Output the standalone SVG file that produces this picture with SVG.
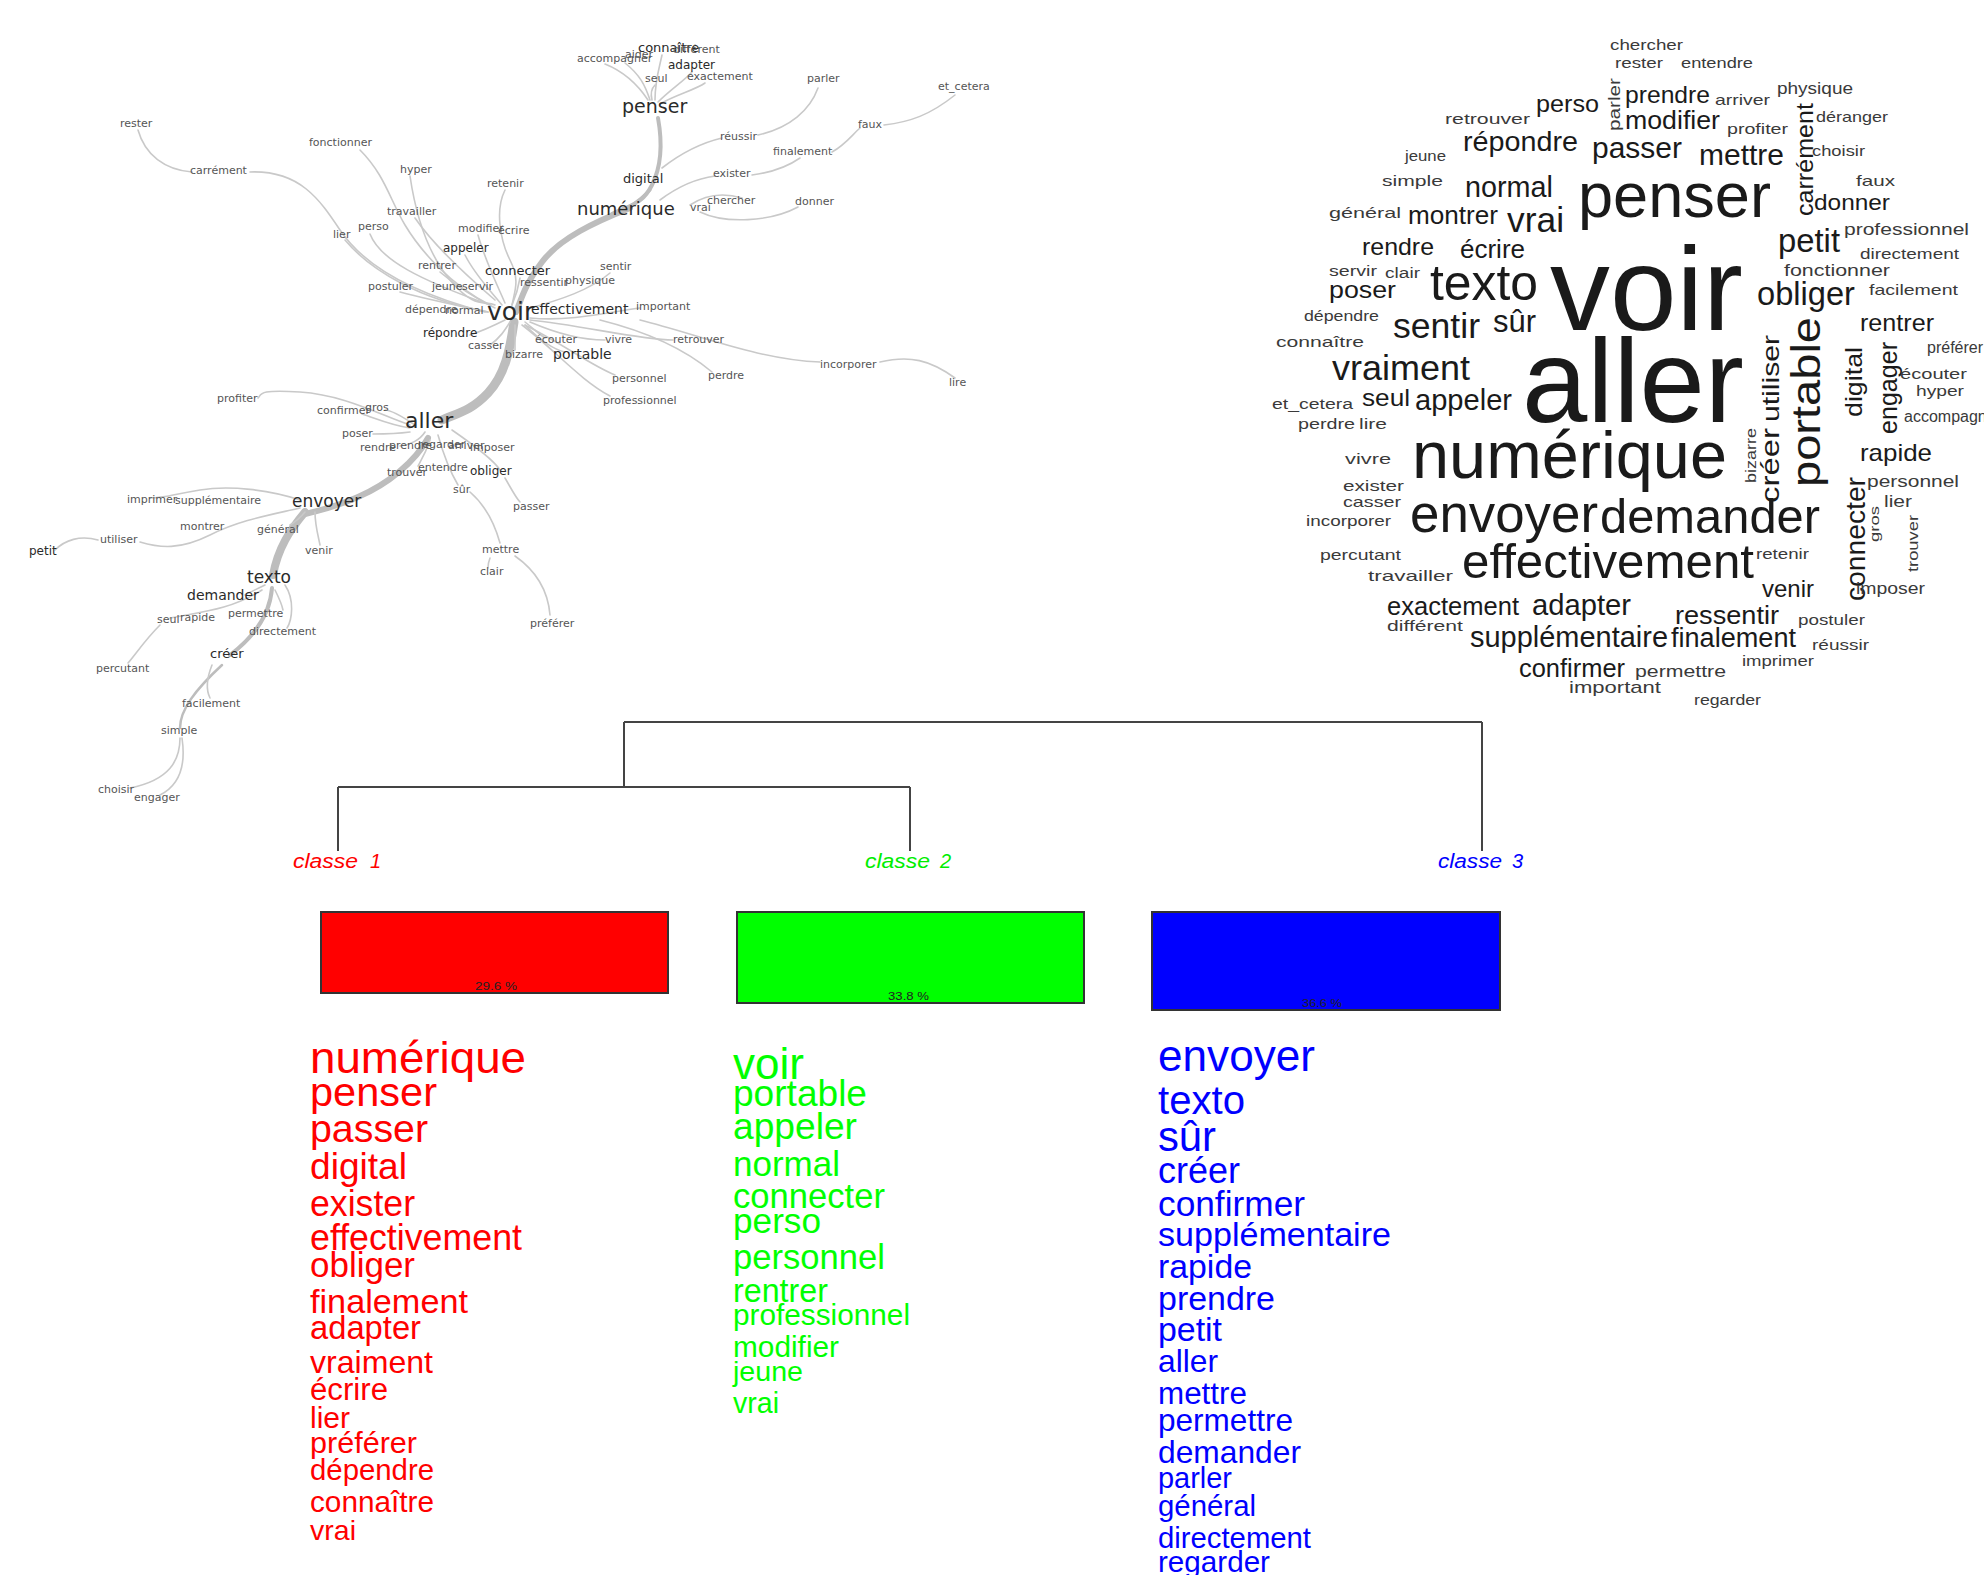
<svg xmlns="http://www.w3.org/2000/svg" width="1984" height="1575" viewBox="0 0 1984 1575">
<style>
.e{fill:none;stroke:#c9c9c9;stroke-width:1.6;stroke-linecap:round}
.b{fill:none;stroke:#bdbdbd;stroke-linecap:round}
.t{font-family:"DejaVu Sans","Liberation Sans",sans-serif;font-size:11px;fill:#555}
.tb{font-family:"DejaVu Sans","Liberation Sans",sans-serif;fill:#2a2a2a}
.w{font-family:"Liberation Sans",Arial,sans-serif;fill:#1a1a1a}
.ws{font-family:"Liberation Sans",Arial,sans-serif;fill:#3a3a3a}
.den{fill:none;stroke:#444;stroke-width:2}
.cl{font-family:"Liberation Sans",Arial,sans-serif;font-style:italic;font-size:20px}
.r{fill:#ff0000}.g{fill:#00ee00}.bl{fill:#0000ff}
.L{font-family:"Liberation Sans",Arial,sans-serif}
.pct{font-family:"Liberation Sans",Arial,sans-serif;font-size:11px;fill:#222}
</style>
<rect width="1984" height="1575" fill="#fff"/>

<!-- similarity tree -->
<g id="tree-edges">
<path class="b" stroke-width="4" d="M658,118 C662,140 662,165 652,185 S630,205 612,214"/>
<path class="b" stroke-width="3" d="M650,190 C640,200 630,208 615,214"/>
<path class="b" stroke-width="6" d="M630,208 C595,222 560,238 542,262 S522,298 516,312"/>
<path class="b" stroke-width="9" d="M514,322 C510,350 505,375 488,393 S458,413 442,420"/>
<path class="b" stroke-width="6" d="M428,438 C415,462 388,484 358,497 S318,510 302,515"/>
<path class="b" stroke-width="8" d="M305,512 C290,530 278,548 273,575"/>
<path class="b" stroke-width="4" d="M272,588 C270,615 255,636 230,655"/>
<path class="b" stroke-width="2.5" d="M222,665 C195,690 180,710 180,728"/>
<path class="e" d="M180,738 C180,760 170,780 130,788"/>
<path class="e" d="M182,738 C186,765 180,785 160,795"/>
<path class="e" d="M212,665 C206,680 206,690 210,698"/>
<path class="e" d="M650,100 C645,85 640,75 625,63"/>
<path class="e" d="M655,100 C655,80 660,65 662,55"/>
<path class="e" d="M658,102 C670,90 685,80 692,72"/>
<path class="e" d="M660,104 C675,95 695,90 705,83"/>
<path class="e" d="M652,100 C650,92 652,88 655,85"/>
<path class="e" d="M648,100 C638,85 625,72 605,64"/>
<path class="e" d="M662,168 C685,150 705,142 722,138"/>
<path class="e" d="M758,135 C790,128 810,110 818,88"/>
<path class="e" d="M660,200 C680,185 700,178 715,176"/>
<path class="e" d="M752,175 C775,172 790,165 800,158"/>
<path class="e" d="M832,152 C845,145 852,135 860,128"/>
<path class="e" d="M884,125 C910,122 930,115 955,95"/>
<path class="e" d="M700,212 C725,224 770,222 798,207"/>
<path class="e" d="M690,205 C705,195 722,192 742,198"/>
<path class="e" d="M138,130 C145,155 165,170 192,172"/>
<path class="e" d="M250,172 C300,170 320,200 340,230 S400,290 485,312"/>
<path class="e" d="M360,150 C385,175 390,200 405,225 S450,285 490,305"/>
<path class="e" d="M410,176 C415,210 425,250 450,280 S485,300 495,305"/>
<path class="e" d="M505,190 C495,210 500,240 510,260 S515,290 512,305"/>
<path class="e" d="M415,218 C430,240 460,270 495,300"/>
<path class="e" d="M370,234 C380,260 420,280 490,305"/>
<path class="e" d="M345,240 C370,270 420,300 488,312"/>
<path class="e" d="M478,235 C485,260 495,280 505,303"/>
<path class="e" d="M465,255 C475,275 490,290 502,305"/>
<path class="e" d="M440,272 C455,285 475,298 495,308"/>
<path class="e" d="M400,292 C430,300 460,306 488,312"/>
<path class="e" d="M520,278 C518,290 515,298 512,305"/>
<path class="e" d="M610,273 C590,290 560,300 530,308"/>
<path class="e" d="M470,335 C485,330 495,325 505,320"/>
<path class="e" d="M490,345 C500,338 505,330 510,322"/>
<path class="e" d="M515,350 C515,340 515,335 515,325"/>
<path class="e" d="M530,318 C570,322 610,312 640,308"/>
<path class="e" d="M530,320 C580,325 640,340 673,340"/>
<path class="e" d="M640,320 C700,335 760,360 820,362"/>
<path class="e" d="M880,362 C910,355 930,360 955,378"/>
<path class="e" d="M600,320 C640,330 680,345 712,372"/>
<path class="e" d="M525,322 C535,330 540,335 545,338"/>
<path class="e" d="M530,322 C560,335 585,340 605,340"/>
<path class="e" d="M525,325 C540,340 555,350 565,352"/>
<path class="e" d="M525,325 C565,345 590,365 615,375"/>
<path class="e" d="M522,325 C555,350 580,380 610,396"/>
<path class="e" d="M410,425 C380,415 345,395 300,392 S262,395 258,398"/>
<path class="e" d="M410,428 C390,425 375,418 362,414"/>
<path class="e" d="M415,425 C400,415 390,410 385,410"/>
<path class="e" d="M410,432 C395,434 385,434 373,434"/>
<path class="e" d="M425,432 C420,440 410,445 400,446"/>
<path class="e" d="M452,430 C478,448 495,462 500,470"/>
<path class="e" d="M505,478 C512,490 516,498 520,502"/>
<path class="e" d="M438,435 C445,460 452,475 458,485"/>
<path class="e" d="M470,492 C485,505 495,525 500,543"/>
<path class="e" d="M515,556 C535,570 548,590 550,615"/>
<path class="e" d="M490,558 C488,563 488,566 488,568"/>
<path class="e" d="M430,440 C425,455 420,462 418,466"/>
<path class="e" d="M300,500 C270,490 230,485 200,490 S165,498 150,498"/>
<path class="e" d="M300,508 C270,515 240,520 210,535 S160,548 140,542"/>
<path class="e" d="M98,540 C80,535 65,540 55,550"/>
<path class="e" d="M305,512 C300,518 295,522 290,525"/>
<path class="e" d="M315,512 C315,525 318,535 320,545"/>
<path class="e" d="M265,585 C255,590 250,592 245,595"/>
<path class="e" d="M262,590 C230,610 200,612 170,618"/>
<path class="e" d="M160,625 C145,640 135,655 128,663"/>
<path class="e" d="M275,590 C280,600 282,605 283,610"/>
<path class="e" d="M285,585 C295,600 292,620 287,628"/>
</g>
<g id="tree-labels">
<text class="t" x="577" y="62" font-size="10">accompagner</text>
<text class="t" x="625" y="58" font-size="10">aider</text>
<text class="tb" x="638" y="52" font-size="13">connaître</text>
<text class="t" x="673" y="53" font-size="10">différent</text>
<text class="tb" x="668" y="69" font-size="12">adapter</text>
<text class="t" x="645" y="82">seul</text>
<text class="t" x="687" y="80">exactement</text>
<text class="tb" x="622" y="113" font-size="19">penser</text>
<text class="t" x="807" y="82">parler</text>
<text class="t" x="938" y="90">et_cetera</text>
<text class="t" x="858" y="128">faux</text>
<text class="t" x="720" y="140">réussir</text>
<text class="t" x="773" y="155">finalement</text>
<text class="t" x="713" y="177">exister</text>
<text class="tb" x="623" y="183" font-size="13">digital</text>
<text class="tb" x="577" y="215" font-size="18">numérique</text>
<text class="t" x="690" y="211">vrai</text>
<text class="t" x="707" y="204">chercher</text>
<text class="t" x="795" y="205">donner</text>
<text class="t" x="120" y="127">rester</text>
<text class="t" x="190" y="174">carrément</text>
<text class="t" x="309" y="146">fonctionner</text>
<text class="t" x="400" y="173">hyper</text>
<text class="t" x="487" y="187">retenir</text>
<text class="t" x="387" y="215">travailler</text>
<text class="t" x="358" y="230">perso</text>
<text class="t" x="333" y="238">lier</text>
<text class="t" x="458" y="232">modifier</text>
<text class="t" x="498" y="234">écrire</text>
<text class="tb" x="443" y="252" font-size="12">appeler</text>
<text class="t" x="418" y="269">rentrer</text>
<text class="tb" x="485" y="275" font-size="13">connecter</text>
<text class="t" x="600" y="270">sentir</text>
<text class="t" x="368" y="290">postuler</text>
<text class="t" x="432" y="290">jeune</text>
<text class="t" x="462" y="290">servir</text>
<text class="t" x="520" y="286">ressentir</text>
<text class="t" x="565" y="284">physique</text>
<text class="t" x="405" y="313">dépendre</text>
<text class="t" x="445" y="314">normal</text>
<text class="tb" x="487" y="320" font-size="25">voir</text>
<text class="tb" x="531" y="314" font-size="14">effectivement</text>
<text class="t" x="636" y="310">important</text>
<text class="tb" x="423" y="337" font-size="12">répondre</text>
<text class="t" x="468" y="349">casser</text>
<text class="t" x="535" y="343">écouter</text>
<text class="t" x="605" y="343">vivre</text>
<text class="t" x="673" y="343">retrouver</text>
<text class="t" x="505" y="358">bizarre</text>
<text class="tb" x="553" y="359" font-size="14">portable</text>
<text class="t" x="612" y="382">personnel</text>
<text class="t" x="708" y="379">perdre</text>
<text class="t" x="603" y="404">professionnel</text>
<text class="t" x="820" y="368">incorporer</text>
<text class="t" x="949" y="386">lire</text>
<text class="t" x="217" y="402">profiter</text>
<text class="t" x="317" y="414">confirmer</text>
<text class="t" x="365" y="411" font-size="10">gros</text>
<text class="tb" x="405" y="428" font-size="22">aller</text>
<text class="t" x="342" y="437">poser</text>
<text class="t" x="360" y="451">rendre</text>
<text class="t" x="389" y="449" font-size="10">prendre</text>
<text class="t" x="418" y="448" font-size="10">regarder</text>
<text class="t" x="448" y="449" font-size="10">arriver</text>
<text class="t" x="470" y="451">imposer</text>
<text class="t" x="387" y="476">trouver</text>
<text class="t" x="418" y="471" font-size="9">entendre</text>
<text class="tb" x="470" y="475" font-size="12">obliger</text>
<text class="t" x="453" y="493">sûr</text>
<text class="t" x="513" y="510">passer</text>
<text class="t" x="127" y="503">imprimer</text>
<text class="t" x="175" y="504">supplémentaire</text>
<text class="tb" x="292" y="507" font-size="17">envoyer</text>
<text class="t" x="180" y="530">montrer</text>
<text class="t" x="257" y="533">général</text>
<text class="t" x="100" y="543">utiliser</text>
<text class="tb" x="29" y="555" font-size="12">petit</text>
<text class="t" x="305" y="554">venir</text>
<text class="t" x="482" y="553">mettre</text>
<text class="t" x="480" y="575">clair</text>
<text class="t" x="530" y="627">préférer</text>
<text class="tb" x="247" y="583" font-size="17">texto</text>
<text class="tb" x="187" y="600" font-size="14">demander</text>
<text class="t" x="157" y="623">seul</text>
<text class="t" x="180" y="621">rapide</text>
<text class="t" x="228" y="617">permettre</text>
<text class="t" x="249" y="635">directement</text>
<text class="tb" x="210" y="658" font-size="13">créer</text>
<text class="t" x="96" y="672">percutant</text>
<text class="t" x="182" y="707">facilement</text>
<text class="t" x="161" y="734">simple</text>
<text class="t" x="98" y="793">choisir</text>
<text class="t" x="134" y="801">engager</text>
</g>

<!-- word cloud -->
<g id="wordcloud">
<text class="ws" x="1610" y="50" font-size="15" textLength="73" lengthAdjust="spacingAndGlyphs">chercher</text>
<text class="ws" x="1615" y="68" font-size="15" textLength="48" lengthAdjust="spacingAndGlyphs">rester</text>
<text class="ws" x="1681" y="68" font-size="15" textLength="72" lengthAdjust="spacingAndGlyphs">entendre</text>
<text class="w" x="1536" y="112" font-size="24" textLength="63" lengthAdjust="spacingAndGlyphs">perso</text>
<text class="ws" transform="translate(1620,131) rotate(-90)" font-size="16" textLength="53" lengthAdjust="spacingAndGlyphs">parler</text>
<text class="w" x="1625" y="103" font-size="24" textLength="85" lengthAdjust="spacingAndGlyphs">prendre</text>
<text class="ws" x="1715" y="105" font-size="15" textLength="55" lengthAdjust="spacingAndGlyphs">arriver</text>
<text class="ws" x="1777" y="94" font-size="16" textLength="76" lengthAdjust="spacingAndGlyphs">physique</text>
<text class="ws" x="1445" y="124" font-size="15" textLength="85" lengthAdjust="spacingAndGlyphs">retrouver</text>
<text class="w" x="1625" y="129" font-size="25" textLength="95" lengthAdjust="spacingAndGlyphs">modifier</text>
<text class="ws" x="1727" y="134" font-size="15" textLength="61" lengthAdjust="spacingAndGlyphs">profiter</text>
<text class="w" transform="translate(1813,216) rotate(-90)" font-size="24" textLength="113" lengthAdjust="spacingAndGlyphs">carrément</text>
<text class="ws" x="1816" y="122" font-size="15" textLength="72" lengthAdjust="spacingAndGlyphs">déranger</text>
<text class="w" x="1463" y="151" font-size="28" textLength="115" lengthAdjust="spacingAndGlyphs">répondre</text>
<text class="w" x="1592" y="158" font-size="29" textLength="90" lengthAdjust="spacingAndGlyphs">passer</text>
<text class="w" x="1699" y="165" font-size="29" textLength="85" lengthAdjust="spacingAndGlyphs">mettre</text>
<text class="ws" x="1812" y="156" font-size="15" textLength="53" lengthAdjust="spacingAndGlyphs">choisir</text>
<text class="ws" x="1405" y="161" font-size="14" textLength="41" lengthAdjust="spacingAndGlyphs">jeune</text>
<text class="ws" x="1382" y="186" font-size="15" textLength="61" lengthAdjust="spacingAndGlyphs">simple</text>
<text class="w" x="1465" y="197" font-size="29" textLength="88" lengthAdjust="spacingAndGlyphs">normal</text>
<text class="w" x="1578" y="217" font-size="63" textLength="193" lengthAdjust="spacingAndGlyphs">penser</text>
<text class="ws" x="1856" y="186" font-size="15" textLength="39" lengthAdjust="spacingAndGlyphs">faux</text>
<text class="w" x="1814" y="210" font-size="22" textLength="76" lengthAdjust="spacingAndGlyphs">donner</text>
<text class="ws" x="1329" y="218" font-size="15" textLength="72" lengthAdjust="spacingAndGlyphs">général</text>
<text class="w" x="1408" y="224" font-size="26" textLength="90" lengthAdjust="spacingAndGlyphs">montrer</text>
<text class="w" x="1507" y="232" font-size="35" textLength="57" lengthAdjust="spacingAndGlyphs">vrai</text>
<text class="ws" x="1844" y="235" font-size="16" textLength="125" lengthAdjust="spacingAndGlyphs">professionnel</text>
<text class="w" x="1362" y="255" font-size="24" textLength="72" lengthAdjust="spacingAndGlyphs">rendre</text>
<text class="w" x="1460" y="258" font-size="26" textLength="65" lengthAdjust="spacingAndGlyphs">écrire</text>
<text class="w" x="1778" y="252" font-size="33" textLength="62" lengthAdjust="spacingAndGlyphs">petit</text>
<text class="ws" x="1860" y="259" font-size="15" textLength="99" lengthAdjust="spacingAndGlyphs">directement</text>
<text class="w" x="1430" y="300" font-size="50" textLength="108" lengthAdjust="spacingAndGlyphs">texto</text>
<text class="w" x="1550" y="330" font-size="118" textLength="193" lengthAdjust="spacingAndGlyphs">voir</text>
<text class="ws" x="1329" y="276" font-size="14" textLength="48" lengthAdjust="spacingAndGlyphs">servir</text>
<text class="ws" x="1385" y="278" font-size="14" textLength="35" lengthAdjust="spacingAndGlyphs">clair</text>
<text class="ws" x="1784" y="276" font-size="17" textLength="106" lengthAdjust="spacingAndGlyphs">fonctionner</text>
<text class="w" x="1329" y="298" font-size="24" textLength="67" lengthAdjust="spacingAndGlyphs">poser</text>
<text class="w" x="1757" y="305" font-size="33" textLength="98" lengthAdjust="spacingAndGlyphs">obliger</text>
<text class="ws" x="1869" y="295" font-size="15" textLength="89" lengthAdjust="spacingAndGlyphs">facilement</text>
<text class="ws" x="1304" y="321" font-size="14" textLength="75" lengthAdjust="spacingAndGlyphs">dépendre</text>
<text class="w" x="1393" y="338" font-size="35" textLength="87" lengthAdjust="spacingAndGlyphs">sentir</text>
<text class="w" x="1493" y="332" font-size="31" textLength="43" lengthAdjust="spacingAndGlyphs">sûr</text>
<text class="w" transform="translate(1820,487) rotate(-90)" font-size="40" textLength="170" lengthAdjust="spacingAndGlyphs">portable</text>
<text class="w" x="1860" y="331" font-size="24" textLength="74" lengthAdjust="spacingAndGlyphs">rentrer</text>
<text class="ws" x="1927" y="353" font-size="16">préférer</text>
<text class="ws" x="1276" y="347" font-size="15" textLength="88" lengthAdjust="spacingAndGlyphs">connaître</text>
<text class="w" x="1332" y="380" font-size="35" textLength="138" lengthAdjust="spacingAndGlyphs">vraiment</text>
<text class="w" x="1522" y="422" font-size="118" textLength="222" lengthAdjust="spacingAndGlyphs">aller</text>
<text class="w" transform="translate(1779,422) rotate(-90)" font-size="24" textLength="87" lengthAdjust="spacingAndGlyphs">utiliser</text>
<text class="w" transform="translate(1862,417) rotate(-90)" font-size="24" textLength="70" lengthAdjust="spacingAndGlyphs">digital</text>
<text class="w" transform="translate(1897,434) rotate(-90)" font-size="25" textLength="92" lengthAdjust="spacingAndGlyphs">engager</text>
<text class="ws" x="1900" y="379" font-size="15" textLength="67" lengthAdjust="spacingAndGlyphs">écouter</text>
<text class="ws" x="1916" y="396" font-size="15" textLength="48" lengthAdjust="spacingAndGlyphs">hyper</text>
<text class="ws" x="1904" y="422" font-size="16">accompagner</text>
<text class="ws" x="1272" y="409" font-size="14" textLength="81" lengthAdjust="spacingAndGlyphs">et_cetera</text>
<text class="w" x="1362" y="406" font-size="24" textLength="48" lengthAdjust="spacingAndGlyphs">seul</text>
<text class="w" x="1415" y="410" font-size="29" textLength="97" lengthAdjust="spacingAndGlyphs">appeler</text>
<text class="ws" x="1298" y="429" font-size="15" textLength="57" lengthAdjust="spacingAndGlyphs">perdre</text>
<text class="ws" x="1359" y="429" font-size="15" textLength="28" lengthAdjust="spacingAndGlyphs">lire</text>
<text class="w" x="1412" y="478" font-size="67" textLength="315" lengthAdjust="spacingAndGlyphs">numérique</text>
<text class="w" transform="translate(1779,503) rotate(-90)" font-size="26" textLength="75" lengthAdjust="spacingAndGlyphs">créer</text>
<text class="ws" transform="translate(1756,483) rotate(-90)" font-size="15" textLength="55" lengthAdjust="spacingAndGlyphs">bizarre</text>
<text class="w" x="1860" y="461" font-size="24" textLength="72" lengthAdjust="spacingAndGlyphs">rapide</text>
<text class="ws" x="1345" y="464" font-size="15" textLength="46" lengthAdjust="spacingAndGlyphs">vivre</text>
<text class="ws" x="1343" y="491" font-size="15" textLength="61" lengthAdjust="spacingAndGlyphs">exister</text>
<text class="w" transform="translate(1865,601) rotate(-90)" font-size="27" textLength="124" lengthAdjust="spacingAndGlyphs">connecter</text>
<text class="ws" x="1867" y="487" font-size="16" textLength="92" lengthAdjust="spacingAndGlyphs">personnel</text>
<text class="ws" x="1343" y="507" font-size="15" textLength="58" lengthAdjust="spacingAndGlyphs">casser</text>
<text class="ws" transform="translate(1879,542) rotate(-90)" font-size="13" textLength="36" lengthAdjust="spacingAndGlyphs">gros</text>
<text class="ws" x="1884" y="507" font-size="16" textLength="28" lengthAdjust="spacingAndGlyphs">lier</text>
<text class="ws" transform="translate(1918,572) rotate(-90)" font-size="15" textLength="57" lengthAdjust="spacingAndGlyphs">trouver</text>
<text class="ws" x="1306" y="526" font-size="15" textLength="85" lengthAdjust="spacingAndGlyphs">incorporer</text>
<text class="w" x="1410" y="532" font-size="53" textLength="188" lengthAdjust="spacingAndGlyphs">envoyer</text>
<text class="w" x="1600" y="533" font-size="49" textLength="220" lengthAdjust="spacingAndGlyphs">demander</text>
<text class="ws" x="1320" y="560" font-size="15" textLength="81" lengthAdjust="spacingAndGlyphs">percutant</text>
<text class="ws" x="1756" y="559" font-size="14" textLength="53" lengthAdjust="spacingAndGlyphs">retenir</text>
<text class="ws" x="1368" y="581" font-size="15" textLength="85" lengthAdjust="spacingAndGlyphs">travailler</text>
<text class="w" x="1462" y="578" font-size="48" textLength="292" lengthAdjust="spacingAndGlyphs">effectivement</text>
<text class="w" x="1762" y="597" font-size="24" textLength="52" lengthAdjust="spacingAndGlyphs">venir</text>
<text class="ws" x="1856" y="594" font-size="16" textLength="69" lengthAdjust="spacingAndGlyphs">imposer</text>
<text class="w" x="1387" y="615" font-size="25" textLength="132" lengthAdjust="spacingAndGlyphs">exactement</text>
<text class="w" x="1532" y="615" font-size="29" textLength="99" lengthAdjust="spacingAndGlyphs">adapter</text>
<text class="ws" x="1387" y="631" font-size="14" textLength="76" lengthAdjust="spacingAndGlyphs">différent</text>
<text class="w" x="1675" y="624" font-size="26" textLength="104" lengthAdjust="spacingAndGlyphs">ressentir</text>
<text class="ws" x="1798" y="625" font-size="15" textLength="67" lengthAdjust="spacingAndGlyphs">postuler</text>
<text class="w" x="1470" y="647" font-size="29" textLength="198" lengthAdjust="spacingAndGlyphs">supplémentaire</text>
<text class="w" x="1671" y="647" font-size="27" textLength="125" lengthAdjust="spacingAndGlyphs">finalement</text>
<text class="ws" x="1812" y="650" font-size="15" textLength="57" lengthAdjust="spacingAndGlyphs">réussir</text>
<text class="ws" x="1742" y="666" font-size="15" textLength="72" lengthAdjust="spacingAndGlyphs">imprimer</text>
<text class="w" x="1519" y="677" font-size="25" textLength="106" lengthAdjust="spacingAndGlyphs">confirmer</text>
<text class="ws" x="1635" y="677" font-size="17" textLength="91" lengthAdjust="spacingAndGlyphs">permettre</text>
<text class="ws" x="1569" y="693" font-size="17" textLength="92" lengthAdjust="spacingAndGlyphs">important</text>
<text class="ws" x="1694" y="705" font-size="15" textLength="67" lengthAdjust="spacingAndGlyphs">regarder</text>
</g>

<!-- dendrogram -->
<g id="dendrogram">
<path class="den" d="M624,722 H1482 M624,722 V787 M338,787 H910 M338,787 V851 M910,787 V851 M1482,722 V851"/>
</g>
<g id="classe1">
<text class="cl r" x="293" y="868" textLength="65" lengthAdjust="spacingAndGlyphs">classe</text>
<text class="cl r" x="370" y="868">1</text>
<rect x="321" y="912" width="347" height="81" fill="#ff0000" stroke="#333" stroke-width="2"/>
<text class="pct" x="475" y="990" textLength="42" lengthAdjust="spacingAndGlyphs">29.6 %</text>
</g>
<g id="classe2">
<text class="cl g" x="865" y="868" textLength="65" lengthAdjust="spacingAndGlyphs">classe</text>
<text class="cl g" x="940" y="868">2</text>
<rect x="737" y="912" width="347" height="91" fill="#00ff00" stroke="#333" stroke-width="2"/>
<text class="pct" x="888" y="1000" textLength="41" lengthAdjust="spacingAndGlyphs">33.8 %</text>
</g>
<g id="classe3">
<text class="cl bl" x="1438" y="868" textLength="64" lengthAdjust="spacingAndGlyphs">classe</text>
<text class="cl bl" x="1512" y="868">3</text>
<rect x="1152" y="912" width="348" height="98" fill="#0000ff" stroke="#333" stroke-width="2"/>
<text class="pct" x="1302" y="1007" textLength="40" lengthAdjust="spacingAndGlyphs">36.6 %</text>
</g>

<g id="list1" class="L" fill="#ff0000">
<text x="310" y="1073" font-size="44" textLength="216" lengthAdjust="spacingAndGlyphs">numérique</text>
<text x="310" y="1106" font-size="41" textLength="127" lengthAdjust="spacingAndGlyphs">penser</text>
<text x="310" y="1142" font-size="39" textLength="118" lengthAdjust="spacingAndGlyphs">passer</text>
<text x="310" y="1179" font-size="37" textLength="97" lengthAdjust="spacingAndGlyphs">digital</text>
<text x="310" y="1216" font-size="36" textLength="105" lengthAdjust="spacingAndGlyphs">exister</text>
<text x="310" y="1250" font-size="36" textLength="212" lengthAdjust="spacingAndGlyphs">effectivement</text>
<text x="310" y="1277" font-size="35" textLength="105" lengthAdjust="spacingAndGlyphs">obliger</text>
<text x="310" y="1313" font-size="34" textLength="158" lengthAdjust="spacingAndGlyphs">finalement</text>
<text x="310" y="1339" font-size="33" textLength="111" lengthAdjust="spacingAndGlyphs">adapter</text>
<text x="310" y="1373" font-size="32" textLength="123" lengthAdjust="spacingAndGlyphs">vraiment</text>
<text x="310" y="1400" font-size="31" textLength="78" lengthAdjust="spacingAndGlyphs">écrire</text>
<text x="310" y="1428" font-size="30" textLength="40" lengthAdjust="spacingAndGlyphs">lier</text>
<text x="310" y="1453" font-size="30" textLength="107" lengthAdjust="spacingAndGlyphs">préférer</text>
<text x="310" y="1480" font-size="29" textLength="124" lengthAdjust="spacingAndGlyphs">dépendre</text>
<text x="310" y="1512" font-size="30" textLength="124" lengthAdjust="spacingAndGlyphs">connaître</text>
<text x="310" y="1540" font-size="28.5" textLength="46" lengthAdjust="spacingAndGlyphs">vrai</text>
</g>
<g id="list2" class="L" fill="#00ff00">
<text x="733" y="1079" font-size="44" textLength="71" lengthAdjust="spacingAndGlyphs">voir</text>
<text x="733" y="1106" font-size="37" textLength="134" lengthAdjust="spacingAndGlyphs">portable</text>
<text x="733" y="1139" font-size="37" textLength="124" lengthAdjust="spacingAndGlyphs">appeler</text>
<text x="733" y="1176" font-size="35" textLength="107" lengthAdjust="spacingAndGlyphs">normal</text>
<text x="733" y="1208" font-size="34.5" textLength="152" lengthAdjust="spacingAndGlyphs">connecter</text>
<text x="733" y="1233" font-size="35" textLength="88" lengthAdjust="spacingAndGlyphs">perso</text>
<text x="733" y="1269" font-size="34.5" textLength="152" lengthAdjust="spacingAndGlyphs">personnel</text>
<text x="733" y="1302" font-size="32.5" textLength="95" lengthAdjust="spacingAndGlyphs">rentrer</text>
<text x="733" y="1325" font-size="30" textLength="177" lengthAdjust="spacingAndGlyphs">professionnel</text>
<text x="733" y="1357" font-size="30" textLength="106" lengthAdjust="spacingAndGlyphs">modifier</text>
<text x="733" y="1381" font-size="28.5" textLength="70" lengthAdjust="spacingAndGlyphs">jeune</text>
<text x="733" y="1413" font-size="29" textLength="46" lengthAdjust="spacingAndGlyphs">vrai</text>
</g>
<g id="list3" class="L" fill="#0000ff">
<text x="1158" y="1071" font-size="44" textLength="157" lengthAdjust="spacingAndGlyphs">envoyer</text>
<text x="1158" y="1114" font-size="40" textLength="87" lengthAdjust="spacingAndGlyphs">texto</text>
<text x="1158" y="1151" font-size="42" textLength="58" lengthAdjust="spacingAndGlyphs">sûr</text>
<text x="1158" y="1183" font-size="36" textLength="82" lengthAdjust="spacingAndGlyphs">créer</text>
<text x="1158" y="1216" font-size="35" textLength="147" lengthAdjust="spacingAndGlyphs">confirmer</text>
<text x="1158" y="1246" font-size="34" textLength="233" lengthAdjust="spacingAndGlyphs">supplémentaire</text>
<text x="1158" y="1278" font-size="34" textLength="94" lengthAdjust="spacingAndGlyphs">rapide</text>
<text x="1158" y="1310" font-size="34" textLength="117" lengthAdjust="spacingAndGlyphs">prendre</text>
<text x="1158" y="1341" font-size="34" textLength="64" lengthAdjust="spacingAndGlyphs">petit</text>
<text x="1158" y="1372" font-size="32" textLength="60" lengthAdjust="spacingAndGlyphs">aller</text>
<text x="1158" y="1404" font-size="31" textLength="89" lengthAdjust="spacingAndGlyphs">mettre</text>
<text x="1158" y="1431" font-size="31.5" textLength="135" lengthAdjust="spacingAndGlyphs">permettre</text>
<text x="1158" y="1463" font-size="32" textLength="143" lengthAdjust="spacingAndGlyphs">demander</text>
<text x="1158" y="1488" font-size="29" textLength="74" lengthAdjust="spacingAndGlyphs">parler</text>
<text x="1158" y="1516" font-size="29" textLength="98" lengthAdjust="spacingAndGlyphs">général</text>
<text x="1158" y="1548" font-size="29" textLength="153" lengthAdjust="spacingAndGlyphs">directement</text>
<text x="1158" y="1572" font-size="29.5" textLength="112" lengthAdjust="spacingAndGlyphs">regarder</text>
</g>
</svg>
